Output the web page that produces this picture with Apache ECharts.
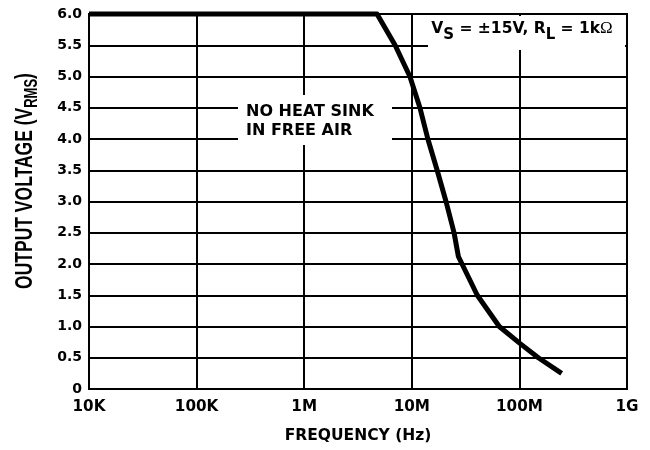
<!DOCTYPE html>
<html>
<head>
<meta charset="utf-8">
<script src="https://cdn.jsdelivr.net/npm/echarts@6/dist/echarts.min.js"></script>
<style>
  html, body { margin: 0; padding: 0; background: #fff; }
  #chart { width: 650px; height: 450px; }
</style>
</head>
<body>
<div id="chart"></div>
<script>
// Output swing vs. frequency, Vs = ±15V, RL = 1kΩ
const freqHz = [1e4, 4.75e6, 7.0e6, 9.6e6, 11.9e6, 14.1e6, 17.2e6, 20.8e6, 24.7e6, 27.1e6, 40.6e6, 65e6, 101e6, 150e6, 247e6];
const outputVrms = [6.0, 6.0, 5.5, 5.0, 4.5, 4.0, 3.5, 3.0, 2.5, 2.12, 1.5, 1.0, 0.73, 0.5, 0.25];

const freqTicks = [1e4, 1e5, 1e6, 1e7, 1e8, 1e9];
const freqTickLabels = ['10K', '100K', '1M', '10M', '100M', '1G'];

const FONT = 'DejaVu Sans';
const FONT_NARROW = 'Liberation Sans';

const chart = echarts.init(document.getElementById('chart'), null, { renderer: 'canvas' });

const curve = freqHz.map((f, i) => [f, outputVrms[i]]);

chart.setOption({
  animation: false,
  backgroundColor: '#ffffff',
  grid: {
    left: 89, right: 23, top: 14, bottom: 61,
    show: true, borderColor: '#000', borderWidth: 2, backgroundColor: 'transparent'
  },
  xAxis: {
    type: 'log',
    logBase: 10,
    min: 1e4,
    max: 1e9,
    name: 'FREQUENCY (Hz)',
    nameLocation: 'middle',
    nameGap: 39,
    nameTextStyle: { fontFamily: FONT, fontWeight: 'bold', fontSize: 15.5, color: '#000' },
    axisLine: { show: true, lineStyle: { color: '#000', width: 2 } },
    axisTick: { show: false },
    minorTick: { show: false },
    splitLine: { show: true, lineStyle: { color: '#000', width: 2 } },
    axisLabel: {
      margin: 11,
      fontFamily: FONT, fontWeight: 'bold', fontSize: 15.2, color: '#000',
      formatter: function (v) {
        const idx = freqTicks.findIndex(t => Math.abs(Math.log10(t) - Math.log10(v)) < 1e-6);
        return idx >= 0 ? freqTickLabels[idx] : '';
      }
    }
  },
  yAxis: {
    type: 'value',
    min: 0,
    max: 6,
    interval: 0.5,
    axisLine: { show: true, lineStyle: { color: '#000', width: 2 } },
    axisTick: { show: false },
    splitLine: { show: true, lineStyle: { color: '#000', width: 2 } },
    axisLabel: {
      margin: 7,
      fontFamily: FONT, fontWeight: 'bold', fontSize: 14, color: '#000',
      formatter: v => (v === 0 ? '0' : v.toFixed(1))
    }
  },
  series: [{
    type: 'line',
    data: curve,
    showSymbol: false,
    symbol: 'none',
    clip: false,
    z: 5,
    lineStyle: { color: '#000', width: 5, join: 'round', cap: 'butt' }
  }],
  graphic: [
    // y-axis title, set vertically with wide lettering
    {
      type: 'text', z: 4, x: 25, y: 181,
      rotation: Math.PI / 2,
      scaleY: 1.35,
      style: {
        text: 'OUTPUT VOLTAGE (V{sub|RMS})',
        align: 'center', verticalAlign: 'middle',
        fontFamily: FONT_NARROW, fontWeight: 'bold', fontSize: 17.5, fill: '#000',
        lineHeight: 19,
        rich: {
          sub: { fontFamily: FONT_NARROW, fontWeight: 'bold', fontSize: 13, fill: '#000', lineHeight: 13, padding: [8, 0, 0, 0], verticalAlign: 'top' }
        }
      }
    },
    // test condition legend, knocked out of the grid
    { type: 'rect', z: 3, shape: { x: 428, y: 16, width: 197, height: 34 }, style: { fill: '#fff' } },
    {
      type: 'text', z: 4, x: 522, y: 29,
      style: {
        text: 'V{sub|S} = ±15V, R{sub|L} = 1k{om|Ω}',
        align: 'center', verticalAlign: 'middle',
        fontFamily: FONT, fontWeight: 'bold', fontSize: 15.5, fill: '#000',
        lineHeight: 18,
        rich: {
          sub: { fontFamily: FONT, fontWeight: 'bold', fontSize: 15, fill: '#000', lineHeight: 14, padding: [8, 0, 0, 0], verticalAlign: 'top' },
          om: { fontFamily: 'Liberation Serif', fontWeight: 'normal', fontSize: 17, fill: '#000', lineHeight: 18, verticalAlign: 'top' }
        }
      }
    },
    // mounting condition label
    { type: 'rect', z: 3, shape: { x: 238, y: 95, width: 154, height: 50 }, style: { fill: '#fff' } },
    {
      type: 'text', z: 4, x: 246, y: 121,
      style: {
        text: 'NO HEAT SINK\nIN FREE AIR',
        align: 'left', verticalAlign: 'middle',
        fontFamily: FONT, fontWeight: 'bold', fontSize: 16, lineHeight: 19, fill: '#000'
      }
    }
  ]
});
</script>
</body>
</html>
